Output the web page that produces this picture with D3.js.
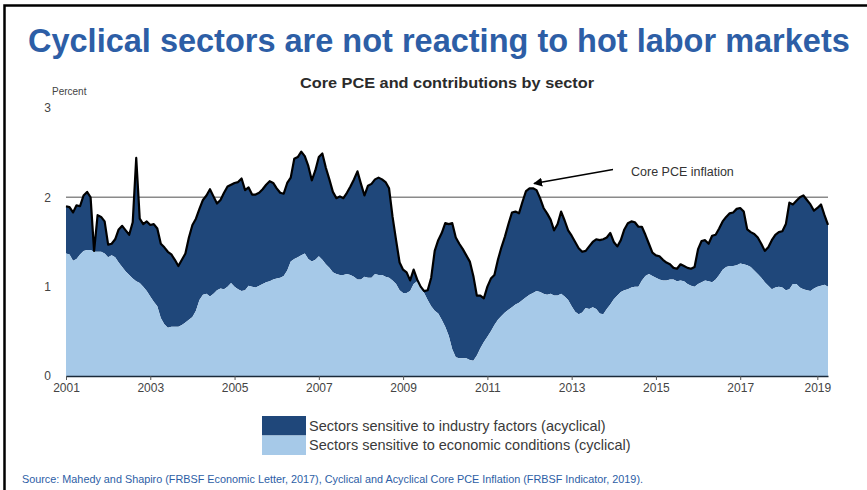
<!DOCTYPE html>
<html>
<head>
<meta charset="utf-8">
<script src="https://cdn.jsdelivr.net/npm/d3@7"></script>
<style>
  html, body { margin: 0; padding: 0; background: #ffffff; }
  svg { display: block; font-family: "Liberation Sans", Arial, sans-serif; }
</style>
</head>
<body>
<svg id="chart" width="867" height="490"></svg>
<script>
// Monthly series, January 2001 onward (percent)
const startYear = 2001;

// Core PCE inflation (total of both contributions)
const coreTotal = [
  1.90,1.89,1.83,1.91,1.90,2.02,2.06,2.00,1.40,1.80,1.78,1.73,
  1.47,1.48,1.53,1.64,1.68,1.63,1.58,1.72,2.44,1.76,1.70,1.73,
  1.69,1.70,1.65,1.48,1.44,1.39,1.36,1.30,1.23,1.30,1.37,1.55,
  1.69,1.76,1.87,1.97,2.02,2.09,2.01,1.93,1.97,2.05,2.12,2.14,
  2.16,2.17,2.21,2.08,2.11,2.03,2.03,2.05,2.09,2.14,2.18,2.16,
  2.10,2.05,2.04,2.16,2.22,2.43,2.45,2.51,2.46,2.35,2.19,2.30,
  2.45,2.49,2.33,2.20,2.06,1.99,2.01,1.99,2.05,2.12,2.20,2.29,
  2.15,2.02,2.13,2.15,2.20,2.22,2.20,2.17,2.10,1.78,1.52,1.27,
  1.19,1.16,1.07,1.19,1.08,1.00,0.95,0.96,1.10,1.40,1.52,1.60,
  1.71,1.70,1.71,1.55,1.48,1.42,1.35,1.28,1.12,0.90,0.90,0.87,
  1.00,1.09,1.13,1.30,1.44,1.56,1.70,1.83,1.84,1.82,1.95,2.07,
  2.10,2.10,2.08,1.99,1.88,1.82,1.75,1.63,1.70,1.84,1.74,1.63,
  1.57,1.50,1.43,1.39,1.40,1.45,1.50,1.53,1.52,1.53,1.55,1.60,
  1.50,1.45,1.52,1.64,1.71,1.73,1.72,1.67,1.67,1.58,1.48,1.38,
  1.35,1.34,1.30,1.27,1.25,1.21,1.20,1.25,1.23,1.21,1.20,1.22,
  1.42,1.51,1.52,1.48,1.57,1.58,1.65,1.73,1.78,1.82,1.83,1.87,
  1.88,1.84,1.64,1.61,1.59,1.55,1.48,1.40,1.44,1.52,1.58,1.61,
  1.62,1.70,1.94,1.92,1.96,2.00,2.02,1.97,1.92,1.85,1.88,1.92,
  1.80,1.69
];

// Contribution of sectors sensitive to economic conditions (cyclical)
const cyclical = [
  1.37,1.36,1.29,1.31,1.36,1.40,1.41,1.41,1.39,1.39,1.39,1.37,
  1.33,1.35,1.33,1.27,1.22,1.17,1.13,1.09,1.06,1.04,1.00,0.95,
  0.89,0.83,0.78,0.65,0.58,0.54,0.55,0.55,0.55,0.57,0.60,0.63,
  0.66,0.73,0.85,0.91,0.92,0.89,0.92,0.96,0.98,0.97,1.00,1.04,
  1.00,0.97,0.95,0.96,1.01,1.00,0.99,1.01,1.03,1.05,1.06,1.08,
  1.09,1.10,1.12,1.18,1.28,1.31,1.33,1.35,1.37,1.31,1.28,1.30,
  1.34,1.30,1.25,1.21,1.16,1.14,1.13,1.13,1.14,1.13,1.11,1.08,
  1.08,1.11,1.10,1.10,1.14,1.13,1.13,1.11,1.10,1.07,1.03,0.96,
  0.93,0.93,0.95,1.03,1.06,0.98,0.93,0.85,0.78,0.73,0.70,0.63,
  0.55,0.45,0.30,0.21,0.20,0.20,0.20,0.18,0.17,0.23,0.31,0.38,
  0.44,0.50,0.57,0.63,0.67,0.71,0.74,0.77,0.80,0.82,0.85,0.88,
  0.91,0.93,0.95,0.94,0.92,0.91,0.92,0.90,0.90,0.92,0.89,0.85,
  0.78,0.72,0.69,0.71,0.76,0.75,0.77,0.75,0.70,0.69,0.75,0.80,
  0.86,0.90,0.94,0.96,0.97,0.99,1.00,1.00,1.07,1.12,1.14,1.12,
  1.10,1.08,1.07,1.07,1.08,1.08,1.06,1.07,1.06,1.03,1.01,1.00,
  1.03,1.05,1.07,1.06,1.05,1.08,1.13,1.19,1.22,1.23,1.23,1.24,
  1.26,1.25,1.24,1.22,1.18,1.14,1.10,1.05,1.01,0.97,0.99,1.00,
  0.99,0.96,0.97,1.03,1.03,0.99,0.97,0.96,0.95,0.98,1.00,1.01,
  1.02,1.00
];

// Axis ticks; the closing "2019" label sits just inside the series end
const xTickYears  = [2001, 2003, 2005, 2007, 2009, 2011, 2013, 2015, 2017, 2018.83];
const xTickLabels = ["2001","2003","2005","2007","2009","2011","2013","2015","2017","2019"];
const yTickValues = [0, 1, 2, 3];
const targetLevel = 2;

const legendLabels = [
  "Sectors sensitive to industry factors (acyclical)",
  "Sectors sensitive to economic conditions (cyclical)"
];

const colors = { acyclical: "#1f477a", cyclical: "#a6c9e8", title: "#2d5ea6", text: "#333333" };

const svg = d3.select("#chart");

// Slide frame (top and left rule)
svg.append("path")
  .attr("d", "M4.5,867 V5.5 H867")
  .attr("fill", "none").attr("stroke", "#000").attr("stroke-width", 2.5);

// Headline
svg.append("text")
  .attr("x", 28).attr("y", 52)
  .attr("font-size", 32.5).attr("font-weight", "bold")
  .attr("fill", colors.title)
  .text("Cyclical sectors are not reacting to hot labor markets");

// Chart title
svg.append("text")
  .attr("x", 300).attr("y", 88)
  .attr("font-size", 15.5).attr("font-weight", "bold").attr("fill", "#2b2b2b")
  .attr("textLength", 294).attr("lengthAdjust", "spacingAndGlyphs")
  .text("Core PCE and contributions by sector");

const data = coreTotal.map((t, i) => ({ year: startYear + i / 12, total: t, cyc: cyclical[i] }));

const x = d3.scaleLinear()
  .domain([startYear, startYear + (coreTotal.length - 1) / 12])
  .range([66, 828]);
const y = d3.scaleLinear().domain([0, 3]).range([376, 107.9]);

// Target reference line at 2 percent
svg.append("line")
  .attr("x1", x.range()[0]).attr("x2", x.range()[1])
  .attr("y1", y(targetLevel)).attr("y2", y(targetLevel))
  .attr("stroke", "#8a8a8a").attr("stroke-width", 1.6);

// Acyclical contribution stacked on top of cyclical
svg.append("path").datum(data)
  .attr("fill", colors.acyclical)
  .attr("d", d3.area().x(d => x(d.year)).y0(d => y(d.cyc)).y1(d => y(d.total)));

svg.append("path").datum(data)
  .attr("fill", colors.cyclical)
  .attr("d", d3.area().x(d => x(d.year)).y0(y(0)).y1(d => y(d.cyc)));

// Core PCE line
svg.append("path").datum(data)
  .attr("fill", "none").attr("stroke", "#000").attr("stroke-width", 2.2)
  .attr("stroke-linejoin", "round")
  .attr("d", d3.line().x(d => x(d.year)).y(d => y(d.total)));

// X axis
const xAxis = svg.append("g")
  .attr("transform", `translate(0,${y(0)})`)
  .call(d3.axisBottom(x).tickValues(xTickYears)
    .tickFormat((d, i) => xTickLabels[i]).tickSize(4).tickSizeOuter(0));
xAxis.select(".domain").attr("stroke", "#1a2a3a").attr("stroke-width", 1.6);
xAxis.selectAll(".tick line").attr("stroke", "#555");
xAxis.selectAll(".tick text")
  .attr("font-size", 12).attr("fill", "#444").attr("dy", "0.78em")
  .attr("font-family", "'Liberation Sans', Arial, sans-serif");

// Y axis labels only
const yAxis = svg.append("g")
  .attr("transform", "translate(56,0)")
  .call(d3.axisLeft(y).tickValues(yTickValues).tickFormat(d3.format("d")).tickSize(0));
yAxis.select(".domain").remove();
yAxis.selectAll(".tick text")
  .attr("font-size", 12).attr("fill", "#444").attr("x", -5)
  .attr("font-family", "'Liberation Sans', Arial, sans-serif");

svg.append("text")
  .attr("x", 52).attr("y", 95)
  .attr("font-size", 10).attr("fill", "#444")
  .text("Percent");

// Annotation for the core PCE line
svg.append("defs").append("marker")
  .attr("id", "arrowhead").attr("viewBox", "0 0 10 10")
  .attr("refX", 9).attr("refY", 5)
  .attr("markerWidth", 9).attr("markerHeight", 9)
  .attr("markerUnits", "userSpaceOnUse").attr("orient", "auto")
  .append("path").attr("d", "M0,0 L10,5 L0,10 z").attr("fill", "#000");

svg.append("line")
  .attr("x1", 613).attr("y1", 169.5).attr("x2", 534).attr("y2", 183.5)
  .attr("stroke", "#000").attr("stroke-width", 1.4)
  .attr("marker-end", "url(#arrowhead)");

svg.append("text")
  .attr("x", 631).attr("y", 176)
  .attr("font-size", 12.5).attr("fill", "#333")
  .text("Core PCE inflation");

// Legend
const legend = svg.append("g").attr("transform", "translate(262,416)");
[colors.acyclical, colors.cyclical].forEach((c, i) => {
  legend.append("rect")
    .attr("x", 0).attr("y", i * 19.5).attr("width", 44).attr("height", 19.5)
    .attr("fill", c);
  legend.append("text")
    .attr("x", 47).attr("y", i * 19.5 + 14.5)
    .attr("font-size", 14.5).attr("fill", "#3a3a3a")
    .text(legendLabels[i]);
});

// Source note
svg.append("text")
  .attr("x", 22).attr("y", 483)
  .attr("font-size", 10.3).attr("fill", colors.title)
  .attr("textLength", 621).attr("lengthAdjust", "spacingAndGlyphs")
  .text("Source: Mahedy and Shapiro (FRBSF Economic Letter, 2017), Cyclical and Acyclical Core PCE Inflation (FRBSF Indicator, 2019).");
</script>
</body>
</html>
